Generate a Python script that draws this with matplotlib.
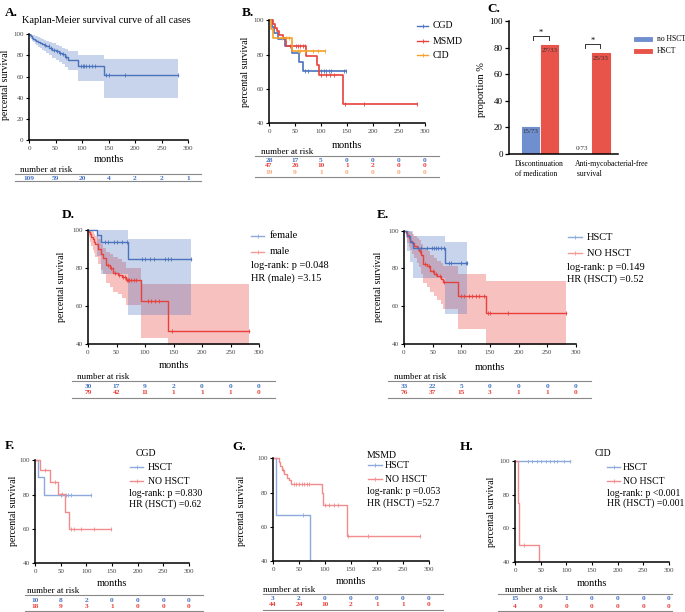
import matplotlib
matplotlib.use('Agg')
import matplotlib.pyplot as plt
from matplotlib.lines import Line2D
from matplotlib import transforms
import numpy as np

plt.rcParams['font.family'] = ['Liberation Serif', 'DejaVu Serif']

# ---------------- data ----------------
risk_times = [0, 50, 100, 150, 200, 250, 300]

# A - all cases
a_t = [0, 2, 4, 6, 8, 11, 14, 17, 20, 24, 28, 33, 38, 44, 50, 56, 62, 68, 74, 93, 141]
a_s = [100, 99, 98, 97, 96, 95, 94, 93, 92, 91, 90, 88.5, 87, 85.5, 84, 82.5, 81, 79, 76, 69.6, 61.2]
a_lo = [100, 97, 95.5, 94, 92.5, 91, 89.5, 88, 87, 85.5, 84, 82, 80, 78, 76, 74, 72, 69, 66, 55.5, 39.5]
a_hi = [100, 100, 100, 99.5, 99, 98.5, 98, 97.5, 97, 96, 95, 94, 93, 91.5, 90, 88.5, 87, 86, 84.5, 80, 77]
a_end = 282
a_cens = [30, 37, 42, 47, 53, 58, 65, 70, 98, 101, 104, 108, 113, 118, 124, 146, 150, 182, 282]
a_risk = [109, 59, 20, 4, 2, 2, 1]

# B - by disease
cgd_t = [0, 6, 10, 18, 31, 44, 58, 66]
cgd_s = [100, 96.4, 92.9, 89.3, 85.2, 81, 75.7, 70.3]
cgd_end = 148
cgd_cens = [70, 75, 100, 105, 110, 115, 120, 145, 148]
msmd_t = [0, 7, 12, 16, 20, 26, 32, 72, 93, 96, 143]
msmd_s = [100, 97.9, 95.7, 93.6, 91.5, 89.4, 84.8, 79.4, 73.7, 67.8, 51.2]
msmd_end = 284
msmd_cens = [40, 52, 56, 60, 65, 70, 100, 110, 118, 125, 147, 182, 284]
cid_t = [0, 4, 8, 45]
cid_s = [100, 94.7, 89.5, 82]
cid_end = 107
cid_cens = [25, 32, 38, 55, 60, 70, 85, 95, 107]
b_risk = [[28, 17, 5, 0, 0, 0, 0],
          [47, 26, 10, 1, 2, 0, 0],
          [19, 9, 1, 0, 0, 0, 0]]

# C - outcome proportions
c_groups = ['Discontinuation\nof medication', 'Anti-mycobacterial-free\n survival']
c_no_hsct = [15 / 73 * 100, 0]
c_hsct = [27 / 33 * 100, 25 / 33 * 100]
c_no_lbl = ['15/73', '0/73']
c_hs_lbl = ['27/33', '25/33']

# D - sex
fem_t = [0, 15, 22, 70]
fem_s = [100, 96.9, 93.4, 84.8]
fem_lo = [100, 86, 76.5, 55.2]
fem_hi = [100, 100, 100, 95.2]
fem_end = 181
fem_cens = [30, 35, 45, 50, 60, 68, 95, 100, 108, 115, 135, 140, 145, 181]
male_t = [0, 2, 4, 6, 8, 10, 13, 17, 22, 27, 32, 38, 44, 52, 60, 66, 93, 141]
male_s = [100, 98.7, 97.5, 96.2, 95, 93.7, 92.4, 90, 87.4, 85, 81.5, 80, 77.3, 76, 75, 73.6, 62.3, 46.8]
male_lo = [100, 96, 93.5, 91.5, 89.5, 87.5, 85.5, 82, 79, 76.5, 72, 70, 67.5, 66, 64, 60.5, 43, 38]
male_hi = [100, 100, 99.5, 99, 98.5, 97.5, 96.5, 95, 92.5, 90.5, 88, 87, 85.5, 84.5, 83, 80, 71.3, 71.3]
male_end = 282
male_cens = [35, 40, 48, 55, 62, 65, 68, 70, 72, 75, 80, 85, 105, 110, 118, 125, 148, 282]
d_risk = [[30, 17, 9, 2, 0, 0, 0],
          [79, 42, 11, 1, 1, 1, 0]]

# E - HSCT vs no HSCT
hs_t = [0, 5, 10, 16, 72]
hs_s = [100, 97, 94, 90.8, 82.9]
hs_lo = [100, 89, 83.5, 75, 55.8]
hs_hi = [100, 100, 100, 97, 94]
hs_end = 110
hs_cens = [25, 30, 40, 48, 52, 55, 60, 65, 70, 78, 82, 100, 108, 110]
nh_t = [0, 3, 5, 8, 11, 14, 18, 22, 26, 30, 34, 40, 46, 52, 58, 64, 68, 94, 143]
nh_s = [100, 98.7, 97.4, 96, 94.7, 93.4, 92, 90.7, 89.4, 86.8, 82.2, 81, 78.5, 77.2, 75.8, 74.5, 72.6, 65.3, 56.6]
nh_lo = [100, 96, 93.5, 91.5, 89.5, 87.5, 85.5, 83, 80.5, 77, 72, 70, 67.5, 65.5, 63, 61, 58.4, 48, 38]
nh_hi = [100, 100, 100, 99.5, 99, 98, 97, 96, 95, 93, 90, 89, 87, 85.5, 84, 83, 81.5, 77, 73.3]
nh_end = 283
nh_cens = [28, 36, 44, 50, 56, 62, 70, 100, 105, 113, 118, 125, 130, 140, 146, 150, 182, 283]
e_risk = [[33, 22, 5, 0, 0, 0, 0],
          [76, 37, 15, 3, 1, 1, 0]]

# F - CGD
f_hs_t = [0, 5, 18]
f_hs_s = [100, 90, 80]
f_hs_end = 110
f_hs_cens = [50, 60, 65, 70, 110]
f_nh_t = [0, 10, 30, 45, 58, 67]
f_nh_s = [100, 94.4, 87.5, 80.6, 70, 60]
f_nh_end = 148
f_nh_cens = [20, 38, 52, 70, 75, 90, 115, 148]
f_risk = [[10, 8, 2, 0, 0, 0, 0],
          [18, 9, 3, 1, 0, 0, 0]]

# G - MSMD
g_hs_t = [0, 5, 72]
g_hs_s = [100, 66.7, 33.3]
g_hs_end = 72
g_hs_cens = [58]
g_nh_t = [0, 11, 14, 17, 21, 26, 30, 34, 95, 97, 143]
g_nh_s = [100, 97.7, 95.4, 93.1, 90.8, 88.5, 87.5, 85.3, 79.9, 72.7, 54.5]
g_nh_end = 283
g_nh_cens = [20, 40, 45, 50, 55, 60, 65, 70, 100, 108, 118, 125, 145, 182, 283]
g_risk = [[3, 2, 0, 0, 0, 0, 0],
          [44, 24, 10, 2, 1, 1, 0]]

# H - CID
h_hs_t = [0]
h_hs_s = [100]
h_hs_end = 108
h_hs_cens = [25, 33, 42, 50, 60, 68, 75, 82, 95, 108]
h_nh_t = [0, 6, 8, 46]
h_nh_s = [100, 75, 50, 25]
h_nh_end = 46
h_nh_cens = [18]
h_risk = [[15, 9, 1, 0, 0, 0, 0],
          [4, 0, 0, 0, 0, 0, 0]]

# colours
BLUE = '#4a72bd'
RED = '#e8413b'
ORANGE = '#f5a02a'
LBLUE = '#8eaadc'
LRED = '#f28c8c'
TBLUE = '#4472c4'
TRED = '#e8413b'
TORANGE = '#f5a878'

W, H = 685, 612
fig = plt.figure(figsize=(W / 100, H / 100), dpi=100)


def fx(x):
    return x / W


def fy(y):
    return 1 - y / H


def ftext(x, y, s, **kw):
    kw.setdefault('va', 'center')
    fig.text(fx(x), fy(y), s, **kw)


def add_ax(l, t, r, b):
    return fig.add_axes([l / W, 1 - b / H, (r - l) / W, (b - t) / H])


def fline(x0, x1, y, color='#888888', lw=0.8):
    fig.add_artist(Line2D([fx(x0), fx(x1)], [fy(y), fy(y)], color=color, lw=lw,
                          transform=fig.transFigure))


def style_km(ax, ymin=40, yticks=(40, 60, 80, 100)):
    ax.set_xlim(0, 300)
    ax.set_ylim(ymin, 100.8)
    for s in ['top', 'right']:
        ax.spines[s].set_visible(False)
    for s in ['left', 'bottom']:
        ax.spines[s].set_linewidth(1.1)
    ax.spines['left'].set_bounds(ymin, 100)
    ax.set_xticks(risk_times)
    ax.set_yticks(yticks)
    ax.tick_params(labelsize=5, length=2.5, width=0.8, pad=1.5, labelcolor='#444444')


def km(ax, t, s, end, cens, color, lo=None, hi=None, band=None, alpha=0.3, lw=1.0):
    x = list(t) + [end]
    y = list(s) + [s[-1]]
    if lo is not None:
        ax.fill_between(x, list(lo) + [lo[-1]], list(hi) + [hi[-1]], step='post',
                        color=band, alpha=alpha, lw=0)
    ax.step(x, y, where='post', color=color, lw=lw)
    cy = [s[np.searchsorted(t, c, side='right') - 1] for c in cens]
    ax.plot(cens, cy, ls='none', marker='|', ms=2.4, mew=0.6, color=color)


def labels(ax, ylab_x, ylab_y, xlab_y):
    ftext(ylab_x, ylab_y, 'percental survival', rotation=90, ha='center', fontsize=7)
    bb = ax.get_position()
    fig.text((bb.x0 + bb.x1) / 2, fy(xlab_y), 'months', ha='center', va='center', fontsize=7.5)


def risk_table(ax, rows, colors, x0, x1, title_x, y_top, y_rows, y_bot):
    ftext(title_x, y_top - 0.3, 'number at risk', va='bottom', fontsize=6.5)
    fline(x0, x1, y_top)
    fline(x0, x1, y_bot)
    tr = transforms.blended_transform_factory(ax.transData, fig.transFigure)
    for row, c, yr in zip(rows, colors, y_rows):
        for t, n in zip(risk_times, row):
            ax.text(t, fy(yr), str(n), transform=tr, ha='center', va='center',
                    fontsize=5.3, color=c, fontweight='bold', clip_on=False)


def legend_item(x0, x1, y, color, text, tx, fs=7):
    fig.add_artist(Line2D([fx(x0), fx(x1)], [fy(y), fy(y)], color=color, lw=1.0,
                          transform=fig.transFigure))
    fig.add_artist(Line2D([fx((x0 + x1) / 2)], [fy(y)], color=color, marker='|', ms=2.5,
                          mew=0.6, transform=fig.transFigure))
    ftext(tx, y, text, ha='left', fontsize=fs)


# ---------------- A ----------------
axA = add_ax(29, 33.5, 188, 140)
style_km(axA, ymin=0, yticks=(0, 20, 40, 60, 80, 100))
km(axA, a_t, a_s, a_end, a_cens, BLUE, a_lo, a_hi, BLUE)
ftext(5, 13, 'A.', fontsize=9.5, fontweight='bold')
ftext(22, 20, 'Kaplan-Meier survival curve of all cases', fontsize=7.5)
labels(axA, 6, 85, 160)
risk_table(axA, [a_risk], [TBLUE], 15, 201, 20, 174, [178], 181)

# ---------------- B ----------------
axB = add_ax(269, 19, 425, 123)
style_km(axB)
km(axB, cgd_t, cgd_s, cgd_end, cgd_cens, BLUE, lw=1.2)
km(axB, msmd_t, msmd_s, msmd_end, msmd_cens, RED, lw=1.2)
km(axB, cid_t, cid_s, cid_end, cid_cens, ORANGE, lw=1.2)
ftext(242, 13, 'B.', fontsize=9.5, fontweight='bold')
labels(axB, 245, 72, 145)
legend_item(417, 428, 26, BLUE, 'CGD', 433)
legend_item(417, 428, 41, RED, 'MSMD', 433)
legend_item(417, 428, 55, ORANGE, 'CID', 433)
risk_table(axB, b_risk, [TBLUE, TRED, TORANGE], 255, 439, 261, 156, [160, 166, 172], 177)

# ---------------- C ----------------
axC = add_ax(509, 21, 618, 154)
xc = np.arange(len(c_groups))
bw = 0.34
axC.bar(xc - 0.18, c_no_hsct, bw, color='#6f8fcf', edgecolor='#6f8fcf', lw=0.8)
axC.bar(xc + 0.18, c_hsct, bw, color='#e8534a', edgecolor='#e8534a', lw=0.8)
for i in range(len(c_groups)):
    yb = c_no_hsct[i] - 4 if c_no_hsct[i] > 8 else c_no_hsct[i] + 4.5
    axC.text(xc[i] - 0.18, yb, c_no_lbl[i], ha='center', va='center', fontsize=5, color='#333333')
    axC.text(xc[i] + 0.18, c_hsct[i] - 4, c_hs_lbl[i], ha='center', va='center', fontsize=5, color='#333333')
    # significance bracket
    top = c_hsct[i] + 7
    axC.plot([xc[i] - 0.13, xc[i] - 0.13, xc[i] + 0.17, xc[i] + 0.17],
             [top - 3, top, top, top - 3], color='#333333', lw=0.7, clip_on=False)
    axC.text(xc[i] + 0.02, top + 2.5, '*', ha='center', va='center', fontsize=6)
axC.set_xlim(-0.6, 1.51)
axC.set_ylim(0, 100)
axC.set_xticks([])
axC.set_yticks([0, 20, 40, 60, 80, 100])
for s in ['top', 'right']:
    axC.spines[s].set_visible(False)
for s in ['left', 'bottom']:
    axC.spines[s].set_linewidth(1.1)
axC.tick_params(labelsize=6.5, length=3, width=0.9, pad=1.5)
ftext(487, 9, 'C.', fontsize=9.5, fontweight='bold')
ftext(482, 90, 'proportion %', rotation=90, ha='center', fontsize=7.5)
ftext(515, 169, c_groups[0], ha='left', fontsize=5.5, linespacing=1.5)
ftext(575, 169, c_groups[1], ha='left', fontsize=5.5, linespacing=1.5)
fig.add_artist(Line2D([fx(636), fx(650)], [fy(39), fy(39)], color='#6f8fcf', lw=3.5,
                      transform=fig.transFigure))
fig.add_artist(Line2D([fx(636), fx(650)], [fy(51), fy(51)], color='#e8534a', lw=3.5,
                      transform=fig.transFigure))
ftext(657, 39, 'no HSCT', ha='left', fontsize=5.5)
ftext(657, 51, 'HSCT', ha='left', fontsize=5.5)

# ---------------- D ----------------
axD = add_ax(88, 228, 259, 344)
style_km(axD)
km(axD, male_t, male_s, male_end, male_cens, RED, male_lo, male_hi, RED, alpha=0.32)
km(axD, fem_t, fem_s, fem_end, fem_cens, BLUE, fem_lo, fem_hi, BLUE, alpha=0.3)
ftext(62, 215, 'D.', fontsize=9.5, fontweight='bold')
labels(axD, 62, 287, 366)
legend_item(251, 264, 236, '#8eaadc', 'female', 270, fs=7.5)
legend_item(251, 264, 252, '#f29a94', 'male', 270, fs=7.5)
ftext(251, 266, 'log-rank: p =0.048', ha='left', fontsize=7.5)
ftext(251, 278, 'HR (male) =3.15', ha='left', fontsize=7.5)
risk_table(axD, d_risk, [TBLUE, TRED], 72, 275, 77, 381, [386, 392.5], 398)

# ---------------- E ----------------
axE = add_ax(404, 229, 576, 344)
style_km(axE)
km(axE, nh_t, nh_s, nh_end, nh_cens, RED, nh_lo, nh_hi, RED, alpha=0.32)
km(axE, hs_t, hs_s, hs_end, hs_cens, BLUE, hs_lo, hs_hi, BLUE, alpha=0.3)
ftext(377, 215, 'E.', fontsize=9.5, fontweight='bold')
labels(axE, 379, 287, 367)
legend_item(568, 582, 237, '#8eaadc', 'HSCT', 587, fs=7.5)
legend_item(568, 582, 253, '#f29a94', 'NO HSCT', 587, fs=7.5)
ftext(567, 267, 'log-rank: p =0.149', ha='left', fontsize=7.5)
ftext(567, 279, 'HR (HSCT) =0.52', ha='left', fontsize=7.5)
risk_table(axE, e_risk, [TBLUE, TRED], 388, 591, 394, 381, [386, 393], 398)

# ---------------- F ----------------
axF = add_ax(35, 459, 189, 563)
style_km(axF)
km(axF, f_hs_t, f_hs_s, f_hs_end, f_hs_cens, LBLUE)
km(axF, f_nh_t, f_nh_s, f_nh_end, f_nh_cens, LRED)
ftext(5, 446, 'F.', fontsize=9.5, fontweight='bold')
labels(axF, 13, 511, 584)
ftext(136, 454, 'CGD', ha='left', fontsize=7)
legend_item(130, 143, 467, LBLUE, 'HSCT', 148)
legend_item(130, 143, 481, LRED, 'NO HSCT', 148)
ftext(129, 493, 'log-rank: p =0.830', ha='left', fontsize=7)
ftext(129, 504, 'HR (HSCT) =0.62', ha='left', fontsize=7)
risk_table(axF, f_risk, [TBLUE, TRED], 25, 203, 27, 595, [600, 606], 611)

# ---------------- G ----------------
axG = add_ax(273, 457, 429, 561)
style_km(axG)
km(axG, g_hs_t, g_hs_s, g_hs_end, g_hs_cens, LBLUE)
km(axG, g_nh_t, g_nh_s, g_nh_end, g_nh_cens, LRED)
ftext(232, 447, 'G.', fontsize=9.5, fontweight='bold')
labels(axG, 242, 511, 582)
ftext(367, 455, 'MSMD', ha='left', fontsize=7)
legend_item(368, 382, 465, LBLUE, 'HSCT', 385)
legend_item(368, 382, 479, LRED, 'NO HSCT', 385)
ftext(367, 492, 'log-rank: p =0.053', ha='left', fontsize=7)
ftext(367, 503, 'HR (HSCT) =52.7', ha='left', fontsize=7)
risk_table(axG, g_risk, [TBLUE, TRED], 263, 443, 263, 594, [599, 605], 610)

# ---------------- H ----------------
axH = add_ax(515, 460, 669, 562)
style_km(axH)
km(axH, h_hs_t, h_hs_s, h_hs_end, h_hs_cens, LBLUE)
km(axH, h_nh_t, h_nh_s, h_nh_end, h_nh_cens, LRED)
ftext(460, 447, 'H.', fontsize=9.5, fontweight='bold')
labels(axH, 492, 512, 583)
ftext(595, 454, 'CID', ha='left', fontsize=7)
legend_item(607, 620, 467, LBLUE, 'HSCT', 623)
legend_item(607, 620, 481, LRED, 'NO HSCT', 623)
ftext(607, 493, 'log-rank: p <0.001', ha='left', fontsize=7)
ftext(607, 503, 'HR (HSCT) =0.001', ha='left', fontsize=7)
risk_table(axH, h_risk, [TBLUE, TRED], 498, 672, 505, 594, [599, 606], 611)

fig.savefig('out.png', dpi=100)
